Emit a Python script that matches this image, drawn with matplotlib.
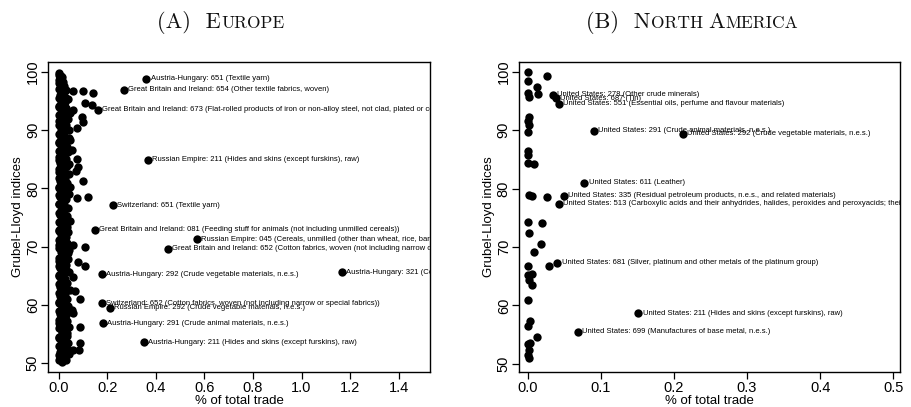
import matplotlib
matplotlib.use("Agg")
import matplotlib.pyplot as plt
from matplotlib.offsetbox import TextArea, HPacker, AnchoredOffsetbox

# ---------------- DATA ----------------
# Europe: unlabelled cluster near zero
eu_cluster_y = [99.8, 99.3, 98.9, 98.4, 98.0, 97.6, 97.2, 96.8, 96.5, 96.1, 95.7, 95.3, 95.0, 94.6, 94.2,
                93.8, 93.4, 93.0, 92.7, 92.3, 91.9, 91.5, 91.1, 90.8, 90.4, 90.0, 89.6, 89.2, 88.8, 88.5,
                88.1, 87.7, 87.3, 86.9, 86.6, 86.2, 85.8, 85.4, 85.0, 84.7, 84.3, 83.9, 83.5, 83.1, 82.8,
                82.4, 82.0, 81.6, 81.2, 80.9, 80.5, 80.1, 79.7, 79.3, 79.0, 78.6, 78.2, 77.8, 77.4, 77.1,
                76.7, 76.3, 75.9, 75.5, 75.2, 74.8, 74.4, 74.0, 73.6, 73.3, 72.9, 72.5, 72.1, 71.7, 71.4,
                71.0, 70.6, 70.2, 69.8, 69.5, 69.1, 68.7, 68.3, 67.9, 67.6, 67.2, 66.8, 66.4, 66.0, 65.7,
                65.3, 64.9, 64.5, 64.1, 63.8, 63.4, 63.0, 62.6, 62.2, 61.9, 61.5, 61.1, 60.7, 60.3, 60.0,
                59.6, 59.2, 58.8, 58.4, 58.1, 57.7, 57.3, 56.9, 56.5, 56.2, 55.8, 55.4, 55.0, 54.6, 54.3,
                53.9, 53.5, 53.1, 52.7, 52.4, 52.0, 51.6, 51.2, 50.8, 50.5, 50.2,
                99.5, 98.6, 97.9, 97.0, 96.3, 95.5, 94.8, 94.0, 93.2, 92.5, 91.7, 90.9, 90.2, 89.4, 88.6,
                87.9, 87.1, 86.4, 85.6, 84.9, 84.1, 83.3, 82.6, 81.8, 81.0, 80.3, 79.5, 78.8, 78.0, 77.3,
                76.5, 75.7, 75.0, 74.2, 73.4, 72.7, 71.9, 71.2, 70.4, 69.7, 68.9, 68.1, 67.4, 66.6, 65.9,
                65.1, 64.3, 63.6, 62.8, 62.0, 61.3, 60.5, 59.8, 59.0, 58.3, 57.5, 56.7, 56.0, 55.2, 54.5,
                53.7, 52.9, 52.2, 51.4, 50.6,
                99.1, 98.2, 97.4, 96.6, 95.8, 95.1, 94.4, 93.6, 92.9, 92.1, 91.3, 90.6, 89.8, 89.0, 88.3,
                87.5, 86.7, 86.0, 85.2, 84.5, 83.7, 82.9, 82.2, 81.4, 80.7, 79.9, 79.1, 78.4, 77.6, 76.9,
                76.1, 75.3, 74.6, 73.8, 73.1, 72.3, 71.5, 70.8, 70.0, 69.3, 68.5, 67.7, 67.0, 66.2, 65.5,
                64.7, 63.9, 63.2, 62.4, 61.7, 60.9, 60.1, 59.4, 58.6, 57.9, 57.1, 56.3, 55.6, 54.8, 54.1,
                53.3, 52.5, 51.8, 51.0, 50.4,
                96.7, 96.7, 96.4, 94.7, 94.3, 93.5, 92.3, 91.4, 90.4, 88.3, 86.6, 85.1, 83.7, 83.0, 81.3,
                80.2, 78.4, 78.5, 70.3, 69.9, 67.4, 66.7, 64.8, 62.4, 61.0, 59.1, 58.6, 56.2, 53.4, 52.2, 52.2]
eu_cluster_x = [0.002, 0.008, 0.004, 0.014, 0.001, 0.020, 0.006, 0.030, 0.011, 0.003, 0.024, 0.038, 0.009, 0.017, 0.002,
                0.031, 0.012, 0.044, 0.005, 0.022, 0.036, 0.001, 0.015, 0.028, 0.007, 0.041, 0.019, 0.003, 0.026, 0.010,
                0.034, 0.001, 0.016, 0.023, 0.006, 0.039, 0.013, 0.002, 0.029, 0.018, 0.004, 0.033, 0.009, 0.021, 0.001,
                0.042, 0.014, 0.027, 0.005, 0.035, 0.011, 0.002, 0.024, 0.017, 0.040, 0.006, 0.030, 0.013, 0.001, 0.022,
                0.037, 0.008, 0.019, 0.003, 0.032, 0.012, 0.045, 0.005, 0.025, 0.016, 0.002, 0.038, 0.010, 0.028, 0.004,
                0.020, 0.034, 0.001, 0.015, 0.043, 0.007, 0.026, 0.011, 0.036, 0.002, 0.018, 0.031, 0.006, 0.023, 0.040,
                0.013, 0.001, 0.027, 0.009, 0.035, 0.017, 0.003, 0.044, 0.012, 0.024, 0.005, 0.033, 0.014, 0.001, 0.029,
                0.019, 0.008, 0.039, 0.003, 0.022, 0.011, 0.034, 0.002, 0.016, 0.041, 0.007, 0.025, 0.013, 0.032, 0.001,
                0.020, 0.037, 0.006, 0.015, 0.028, 0.003, 0.043, 0.010, 0.021, 0.001, 0.012,
                0.000, 0.000, 0.009, 0.000, 0.018, 0.000, 0.027, 0.000, 0.021, 0.000, 0.026, 0.000, 0.030, 0.000, 0.040,
                0.000, 0.033, 0.000, 0.022, 0.000, 0.040, 0.000, 0.025, 0.000, 0.018, 0.000, 0.033, 0.000, 0.024, 0.000,
                0.027, 0.000, 0.020, 0.000, 0.034, 0.000, 0.019, 0.000, 0.027, 0.000, 0.036, 0.000, 0.025, 0.000, 0.032,
                0.000, 0.019, 0.000, 0.026, 0.000, 0.020, 0.000, 0.037, 0.000, 0.030, 0.000, 0.024, 0.000, 0.035, 0.000,
                0.027, 0.000, 0.036, 0.000, 0.029,
                0.012, 0.016, 0.010, 0.014, 0.013, 0.009, 0.015, 0.011, 0.017, 0.010, 0.012, 0.014, 0.009, 0.016, 0.013,
                0.011, 0.015, 0.010, 0.017, 0.012, 0.009, 0.014, 0.016, 0.011, 0.013, 0.010, 0.015, 0.012, 0.017, 0.009,
                0.014, 0.011, 0.016, 0.013, 0.010, 0.015, 0.012, 0.009, 0.017, 0.011, 0.014, 0.016, 0.010, 0.013, 0.015,
                0.012, 0.009, 0.017, 0.011, 0.014, 0.016, 0.010, 0.013, 0.015, 0.012, 0.017, 0.009, 0.014, 0.011, 0.016,
                0.013, 0.010, 0.015, 0.012, 0.011,
                0.058, 0.099, 0.140, 0.107, 0.136, 0.058, 0.095, 0.099, 0.074, 0.045, 0.054, 0.074, 0.078, 0.070, 0.099,
                0.045, 0.074, 0.120, 0.058, 0.107, 0.078, 0.107, 0.058, 0.066, 0.087, 0.054, 0.058, 0.087, 0.087, 0.058, 0.082]

# Europe: labelled products
eu_lab_x = [0.360, 0.268, 0.161, 0.367, 0.223, 0.148, 0.569, 0.449, 0.177, 1.167, 0.177, 0.210, 0.182, 0.350]
eu_lab_y = [98.8, 96.9, 93.5, 84.9, 77.1, 72.9, 71.3, 69.6, 65.3, 65.6, 60.3, 59.5, 56.9, 53.6]
eu_labels = [
    "Austria-Hungary: 651 (Textile yarn)",
    "Great Britain and Ireland: 654 (Other textile fabrics, woven)",
    "Great Britain and Ireland: 673 (Flat-rolled products of iron or non-alloy steel, not clad, plated or coated)",
    "Russian Empire: 211 (Hides and skins (except furskins), raw)",
    "Switzerland: 651 (Textile yarn)",
    "Great Britain and Ireland: 081 (Feeding stuff for animals (not including unmilled cereals))",
    "Russian Empire: 045 (Cereals, unmilled (other than wheat, rice, barley and maize))",
    "Great Britain and Ireland: 652 (Cotton fabrics, woven (not including narrow or special fabrics))",
    "Austria-Hungary: 292 (Crude vegetable materials, n.e.s.)",
    "Austria-Hungary: 321 (Coal, not agglomerated)",
    "Switzerland: 652 (Cotton fabrics, woven (not including narrow or special fabrics))",
    "Russian Empire: 292 (Crude vegetable materials, n.e.s.)",
    "Austria-Hungary: 291 (Crude animal materials, n.e.s.)",
    "Austria-Hungary: 211 (Hides and skins (except furskins), raw)",
]

# North America: unlabelled points
na_x = [0.000, 0.000, 0.026, 0.012, 0.000, 0.002, 0.014, 0.002, 0.000, 0.002, 0.000, 0.000, 0.000, 0.000, 0.008,
        0.002, 0.006, 0.026, 0.000, 0.019, 0.002, 0.018, 0.008, 0.000, 0.029, 0.000, 0.005, 0.002, 0.006,
        0.000, 0.003, 0.000, 0.013, 0.003, 0.000, 0.002, 0.000, 0.002]
na_y = [100.0, 98.5, 99.3, 97.4, 96.4, 95.7, 96.2, 92.3, 91.6, 90.9, 89.7, 86.5, 85.8, 84.4, 84.2,
        78.9, 78.8, 78.6, 74.3, 74.1, 72.4, 70.5, 69.2, 66.8, 66.8, 65.2, 65.4, 64.4, 63.5,
        60.9, 57.4, 56.5, 54.6, 53.6, 53.4, 52.4, 51.5, 51.0]

# North America: labelled products
na_lab_x = [0.034, 0.038, 0.042, 0.090, 0.212, 0.077, 0.049, 0.042, 0.040, 0.151, 0.068]
na_lab_y = [96.1, 95.5, 94.5, 89.9, 89.4, 81.0, 78.8, 77.4, 67.3, 58.7, 55.5]
na_labels = [
    "United States: 278 (Other crude minerals)",
    "United States: 687 (Tin)",
    "United States: 551 (Essential oils, perfume and flavour materials)",
    "United States: 291 (Crude animal materials, n.e.s.)",
    "United States: 292 (Crude vegetable materials, n.e.s.)",
    "United States: 611 (Leather)",
    "United States: 335 (Residual petroleum products, n.e.s., and related materials)",
    "United States: 513 (Carboxylic acids and their anhydrides, halides, peroxides and peroxyacids; their halogenated derivatives)",
    "United States: 681 (Silver, platinum and other metals of the platinum group)",
    "United States: 211 (Hides and skins (except furskins), raw)",
    "United States: 699 (Manufactures of base metal, n.e.s.)",
]

eu_xticks = [0.0, 0.2, 0.4, 0.6, 0.8, 1.0, 1.2, 1.4]
na_xticks = [0.0, 0.1, 0.2, 0.3, 0.4, 0.5]
yticks = [50, 60, 70, 80, 90, 100]

# ---------------- PLOT ----------------
plt.rcParams['font.family'] = ['Liberation Sans', 'DejaVu Sans']

fig = plt.figure(figsize=(9.12, 4.07), dpi=100)
axL = fig.add_axes([0.0526, 0.086, 0.419, 0.762])
axR = fig.add_axes([0.569, 0.086, 0.418, 0.762])

MS = 36


def style(ax, xticks, xlim, ylim):
    ax.set_xlim(*xlim)
    ax.set_ylim(*ylim)
    ax.set_xticks(xticks)
    ax.set_xticklabels([f"{t:.1f}" for t in xticks])
    ax.set_yticks(yticks)
    ax.set_yticklabels([str(t) for t in yticks], rotation=90, va='center')
    ax.tick_params(axis='both', direction='out', length=5, width=0.9, labelsize=10.5,
                   colors='black')
    ax.tick_params(axis='x', pad=1.5)
    ax.tick_params(axis='y', pad=0.8)
    for s in ax.spines.values():
        s.set_linewidth(1.0)
        s.set_color('black')
    ax.set_xlabel("% of total trade", fontsize=9.5, labelpad=0)
    ax.set_ylabel("Grubel-Lloyd indices", fontsize=9.5, labelpad=1.5)


def annotate(ax, xs, ys, labels):
    for x, y, t in zip(xs, ys, labels):
        txt = ax.annotate(t, (x, y), xytext=(3.2, 0), textcoords='offset points',
                          va='center', ha='left', fontsize=5.5, color='black')
        txt.set_clip_on(True)
        txt.set_clip_box(ax.bbox)


axL.scatter(eu_cluster_x, eu_cluster_y, s=MS, color='black', linewidths=0, zorder=3)
axL.scatter(eu_lab_x, eu_lab_y, s=MS, color='black', linewidths=0, zorder=3)
annotate(axL, eu_lab_x, eu_lab_y, eu_labels)
style(axL, eu_xticks, (-0.045, 1.53), (48.5, 101.7))

axR.scatter(na_x, na_y, s=MS, color='black', linewidths=0, zorder=3)
axR.scatter(na_lab_x, na_lab_y, s=MS, color='black', linewidths=0, zorder=3)
annotate(axR, na_lab_x, na_lab_y, na_labels)
style(axR, na_xticks, (-0.0123, 0.5096), (48.6, 101.7))


def sc_title(xfig, parts):
    boxes = [TextArea(t, textprops=dict(fontfamily='cmr10', fontsize=fs, color='#111111'))
             for t, fs in parts]
    pack = HPacker(children=boxes, align='baseline', pad=0, sep=0)
    ab = AnchoredOffsetbox(loc='center', child=pack, pad=0, frameon=False,
                           bbox_to_anchor=(xfig, 0.945), bbox_transform=fig.transFigure,
                           borderpad=0)
    fig.add_artist(ab)


sc_title(221 / 912, [("(A)  E", 16), ("UROPE", 12.5)])
sc_title(692 / 912, [("(B)  N", 16), ("ORTH ", 12.5), ("A", 16), ("MERICA", 12.5)])

fig.savefig("out.png", dpi=100)
